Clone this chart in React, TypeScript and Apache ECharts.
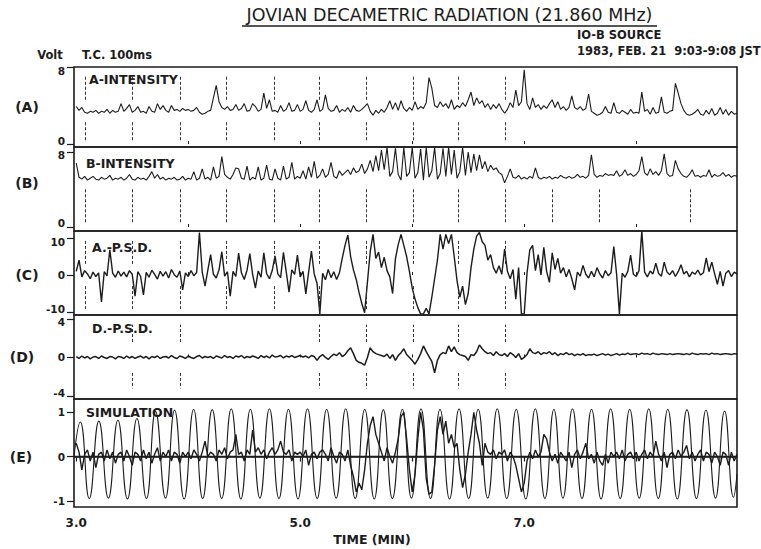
import React, { useEffect, useRef } from "react";
import * as echarts from "echarts";

// one reading every 0.025 min, starting at 3.0 min
const T_START = 3.0;
const T_STEP = 0.025;

const A_INTENSITY = [
  3.9, 3.5, 3.8, 3.3, 3.2, 3.4, 3.3, 3.5,
  3.2, 3.4, 3.3, 3.6, 3.2, 3.5, 3.3, 3.4,
  4.2, 3.4, 3.7, 4.1, 3.3, 3.5, 3.9, 3.3,
  3.4, 3.2, 3.9, 3.4, 3.3, 4.2, 3.6, 4.0,
  3.5, 3.3, 4.0, 3.5, 3.6, 3.4, 3.7, 3.5,
  3.6, 3.4, 3.5, 3.8, 3.3, 3.1, 3.2, 3.4,
  3.5, 4.8, 6.1, 4.4, 3.8, 3.6, 3.9, 3.5,
  3.6, 4.1, 3.5, 3.7, 4.2, 3.4, 3.5, 4.2,
  3.9, 3.4, 3.6, 5.3, 3.7, 4.6, 3.4, 3.5,
  3.3, 4.0, 3.4, 3.6, 4.3, 3.4, 3.5, 4.1,
  3.4, 3.6, 4.5, 3.5, 3.3, 3.6, 4.6, 3.4,
  3.6, 5.1, 3.7, 3.4, 3.5, 4.0, 3.3, 3.6,
  3.4, 3.8, 3.3, 4.0, 3.5, 3.4, 3.6, 3.9,
  4.2, 3.4, 3.0, 3.5, 3.2, 3.6, 3.3, 3.8,
  4.5, 3.6, 4.3, 3.5, 4.5, 3.7, 3.4, 3.8,
  3.5, 4.4, 3.6, 3.9, 3.7, 4.3, 6.9, 5.8,
  4.0, 3.8, 4.4, 3.9, 4.2, 3.7, 4.6, 3.6,
  4.0, 3.8, 4.3, 3.9, 4.6, 5.4, 4.0, 4.8,
  4.2, 4.5, 3.8, 4.2, 3.6, 4.1, 3.7, 4.2,
  3.6, 3.2, 3.6, 4.3, 3.8, 5.6, 4.0, 4.4,
  7.7, 4.2, 3.6, 4.8, 3.8, 4.1, 3.6, 4.0,
  3.7, 4.2, 4.6, 3.8, 4.4, 3.6, 3.9, 3.5,
  3.8, 5.0, 3.8, 3.6, 3.9, 3.5, 3.7, 5.2,
  3.4, 3.2, 3.0, 3.1, 3.3, 3.9, 3.3, 3.2,
  4.3, 3.3, 3.2, 3.5, 3.3, 3.1, 3.6, 3.2,
  3.3, 3.2, 5.4, 3.4, 3.6, 3.1, 3.8, 3.2,
  3.3, 4.9, 3.3, 3.2, 3.4, 3.5, 6.3, 5.3,
  4.2, 3.5, 3.1, 3.0, 3.1, 3.3, 3.6, 3.1,
  3.0, 3.5, 3.1, 3.7, 3.0, 3.2, 3.8, 3.1,
  3.6, 3.0, 3.4, 3.1, 3.2,
];

const B_INTENSITY = [
  6.8, 5.3, 5.1, 5.4, 5.0, 5.2, 5.4, 5.1,
  5.0, 5.3, 5.1, 5.2, 5.5, 5.0, 5.2, 5.1,
  5.3, 5.0, 5.2, 5.6, 5.1, 5.0, 5.3, 5.1,
  5.2, 5.0, 5.4, 5.9, 5.2, 5.6, 5.1, 5.3,
  5.0, 5.2, 5.1, 5.3, 5.0, 5.1, 5.4, 5.0,
  5.2, 5.1, 5.9, 5.0, 5.2, 6.2, 5.1, 5.3,
  5.0, 6.4, 5.2, 5.4, 7.5, 5.6, 5.3, 5.1,
  5.6, 6.3, 6.2, 5.2, 5.1, 6.5, 5.0, 5.3,
  5.1, 6.4, 5.0, 5.2, 6.6, 5.1, 5.0, 6.2,
  5.2, 5.0, 6.5, 5.1, 5.3, 6.9, 5.1, 5.4,
  5.2, 6.0, 5.1, 6.4, 5.3, 7.0, 5.2, 5.5,
  6.2, 5.3, 5.6, 6.9, 5.4, 5.2, 6.0, 5.5,
  5.8, 6.1, 5.6, 6.3, 5.8, 6.0, 6.7, 5.7,
  6.2, 7.1, 5.9, 7.6, 6.0, 8.2, 6.1, 8.5,
  5.4, 5.9, 8.4, 5.6, 5.0, 8.5, 5.4, 5.8,
  8.5, 5.2, 5.8, 8.3, 5.0, 8.5, 5.3, 6.0,
  8.5, 5.1, 5.7, 8.4, 5.4, 8.5, 5.6, 8.2,
  5.2, 5.9, 8.5, 5.5, 8.0, 5.8, 7.8, 6.0,
  7.7, 6.2, 7.0, 5.9, 6.6, 6.1, 6.3, 5.8,
  5.6, 4.7, 5.4, 6.2, 5.3, 5.2, 5.5, 5.1,
  5.3, 5.1, 5.4, 5.2, 6.3, 5.3, 5.1, 5.3,
  5.2, 5.4, 5.1, 5.3, 5.2, 5.5, 5.3, 5.2,
  5.4, 5.2, 5.3, 5.6, 5.3, 5.4, 5.2, 5.5,
  7.7, 5.6, 5.3, 5.5, 5.4, 5.7, 5.5, 5.6,
  5.5, 6.0, 5.4, 5.6, 6.1, 5.5, 5.7, 5.4,
  5.6, 6.0, 7.5, 5.8, 5.5, 6.2, 5.6, 5.9,
  5.5, 6.0, 7.8, 5.7, 5.4, 5.5, 7.1, 6.2,
  5.7, 5.4, 5.3, 5.6, 6.1, 5.4, 5.5, 5.3,
  5.5, 5.4, 6.1, 5.3, 5.6, 5.4, 5.5, 5.8,
  5.4, 5.6, 5.3, 5.5, 5.4,
];

const A_PSD = [
  1.0, 4.0, -0.5, 1.2, 0.3, -1.0, 0.8, -0.4,
  0.6, -7.3, 0.9, -0.2, 6.8, 0.5, -0.6, 1.1,
  -0.3, 0.8, -0.5, 1.2, 0.2, -5.7, 0.9, -0.4,
  -5.4, 0.7, -0.6, 1.3, 0.2, -1.1, 1.0, -0.3,
  0.9, -0.8, 1.5, 0.1, -0.6, 1.1, -4.0, 0.6,
  -0.4, 1.2, -0.2, 0.7, 11.5, 0.8, -3.0, 1.3,
  5.5, 0.2, -0.8, 1.4, 6.3, -0.3, 0.9, -5.7,
  1.0, -0.4, 5.9, 0.6, -1.2, 1.3, 5.8, 0.2,
  -3.5, 1.1, -0.6, 6.0, 0.4, -1.0, 1.2, 5.2,
  0.3, -0.7, 6.1, 0.9, -4.6, 1.4, 0.2, 5.4,
  -0.5, 1.0, -5.1, 0.8, 6.5, 0.3, -2.2, -10.5,
  0.5, -1.3, 1.5, -0.7, 0.9, -1.2, 0.6, 4.5,
  8.0, 10.8, 5.0, 1.4, -1.2, -4.7, -7.7, -10.2,
  -2.0, 6.3, 11.0, 4.5, 6.2, 2.0, 4.8, 1.2,
  -0.5, -5.0, 4.4, 8.2, 11.0, 8.0, 5.0, 1.0,
  -3.5, -6.5, -8.8, -10.5, -10.5, -9.0, -10.5, -6.0,
  -1.0, 4.0, 11.0, 7.0, 11.0, 8.5, 11.0, 5.0,
  -1.5, -6.0, -3.0, -8.0, -5.0, 2.0, 7.0, 10.5,
  11.5, 9.0, 8.0, 4.0, 5.5, 2.0, 0.5, 2.5,
  0.2, 7.0, 1.0, -1.0, 1.5, -6.5, 2.0, -10.5,
  -10.5, 0.5, 6.8, 8.0, 1.2, 5.5, 0.0, 7.5,
  1.0, -2.0, 6.0, 1.5, 4.5, 0.5, 2.0, -0.5,
  1.5, -1.0, -4.0, 0.8, -0.3, 2.6, 0.2, -0.8,
  1.0, -0.5, 2.0, 0.3, -0.8, 1.2, -0.2, 0.6,
  7.7, 0.2, -10.5, 0.5, -0.6, 1.0, 5.4, 0.2,
  -0.4, 1.2, 11.9, 0.8, -0.5, 1.1, 0.3, 3.2,
  0.4, -0.3, 3.5, 0.8, 0.1, 1.2, -0.4, 0.9,
  2.8, 0.3, 1.0, -0.5, 0.8, 0.2, 1.3, 0.0,
  0.6, 4.6, 0.9, 3.5, 0.4, -2.5, 1.0, -3.0,
  0.5, 1.2, -0.4, 0.8, 0.3,
];

const D_PSD = [
  0.1, -0.1, 0.15, -0.05, 0.1, -0.15, 0.05, 0.1,
  -0.1, 0.15, 0.0, -0.1, 0.1, 0.05, -0.15, 0.1,
  0.05, -0.1, 0.15, -0.05, 0.1, -0.1, 0.05, 0.15,
  -0.05, 0.1, -0.15, 0.1, 0.0, 0.15, -0.1, 0.05,
  0.1, -0.05, 0.2, 0.0, -0.1, 0.15, 0.05, -0.1,
  0.15, 0.0, -0.1, 0.1, 0.2, -0.05, 0.1, 0.0,
  0.1, -0.1, 0.15, 0.05, -0.05, 0.2, 0.0, 0.1,
  -0.1, 0.15, 0.05, 0.2, -0.05, 0.1, 0.0, 0.15,
  0.05, -0.1, 0.2, 0.0, 0.15, -0.05, 0.25, 0.05,
  0.1, 0.2, -0.05, 0.15, 0.05, 0.2, 0.0, 0.1,
  0.2, 0.05, 0.15, -0.05, 0.2, 0.1, -0.3, 0.1,
  0.3, 0.0, -0.2, 0.1, 0.35, 0.2, 0.5, 0.1,
  0.3, 0.7, 1.0, 0.4, -0.3, -0.5, -0.6, -0.8,
  0.0, 1.0, 0.6, 0.4, 0.3, 0.2, 0.1, 0.35,
  -0.1, 0.3, -0.3, 0.2, 0.5, 0.9, 0.3, 0.0,
  -0.3, -0.7, -0.2, 0.4, 1.2, 0.6, 0.1, -0.4,
  -1.6, -0.3, 0.3, 0.5, 0.4, 1.2, 0.6, 1.1,
  0.5, 0.3, 0.2, 0.1, -0.3, 0.3, 0.2, 0.6,
  1.3, 0.9, 0.6, 0.4, 0.5, 0.2, 0.6, 0.3,
  0.2, 0.4, 0.1, 0.5, 0.3, 0.0, 0.4, -0.2,
  0.0, 0.3, 0.9, 0.5, 0.4, 0.6, 0.3, 0.5,
  0.4, 0.6, 0.3, 0.5, 0.2, 0.4, 0.3, 0.5,
  0.3, 0.4, 0.2, 0.35, 0.25, 0.4, 0.2, 0.3,
  0.25, 0.35, 0.2, 0.3, 0.4, 0.25, 0.35, 0.2,
  0.3, 0.4, 0.25, 0.35, 0.3, 0.45, 0.3, 0.35,
  0.4, 0.3, 0.45, 0.35, 0.4, 0.3, 0.45, 0.35,
  0.3, 0.4, 0.35, 0.3, 0.4, 0.3, 0.35, 0.4,
  0.35, 0.3, 0.4, 0.3, 0.45, 0.35, 0.3, 0.4,
  0.35, 0.4, 0.3, 0.45, 0.35, 0.4, 0.3, 0.35,
  0.4, 0.35, 0.3, 0.4, 0.35,
];

const E_MEASURED = [
  0.3, 0.1, -0.3, 0.05, 0.15, -0.1, 0.1, -0.25,
  0.05, 0.1, -0.1, 0.15, -0.05, 0.1, -0.15, 0.05,
  0.1, -0.1, 0.15, 0.0, -0.2, 0.1, 0.05, -0.1,
  0.15, -0.05, 0.1, -0.15, 0.05, 0.2, -0.1, 0.1,
  0.0, 0.15, -0.1, 0.1, 0.05, -0.15, 0.1, 0.0,
  0.1, -0.05, 0.15, 0.05, -0.1, 0.1, 0.35, 0.0,
  0.1, 0.05, -0.1, 0.15, 0.05, 0.2, -0.05, 0.1,
  0.15, 0.5, 0.05, 0.1, -0.1, 0.15, 0.05, 0.6,
  0.1, 0.2, 0.05, 0.15, -0.05, 0.1, 0.2, 0.05,
  0.15, 0.35, 0.1, 0.05, 0.15, -0.1, 0.1, 0.05,
  0.1, 0.0, 0.15, -0.2, 0.05, 0.1, -0.05, 0.1,
  0.15, 0.05, -0.1, 0.2, 0.0, -0.15, 0.1, 0.05,
  -0.1, 0.15, -0.2, -0.45, -0.8, -0.6, -0.75, -0.3,
  0.3, 0.7, 0.9, 0.5, 0.3, 0.1, -0.1, 0.2,
  0.0, -0.15, 0.1, 0.4, 0.9, 1.0, 0.4, -0.3,
  -0.8, -0.4, 0.4, 1.0, 0.6, -0.5, -0.85, -0.8,
  -0.2, 0.6, 0.9, 0.5, 0.8, 0.3, 0.5, 0.2,
  0.3, -0.3, -0.7, -0.4, 0.1, 0.5, 1.0, 0.6,
  0.3, -0.2, 0.3, 0.1, 0.05, 0.15, -0.05, 0.1,
  0.05, 0.15, -0.1, 0.1, 0.0, -0.2, -0.5, -0.8,
  -0.6, -0.1, 0.1, -0.05, 0.15, 0.0, 0.1, 0.5,
  0.4, 0.1, -0.1, 0.05, -0.15, 0.1, 0.0, -0.1,
  0.1, -0.25, 0.05, 0.15, -0.05, 0.1, 0.3, -0.05,
  0.05, -0.15, 0.1, -0.1, -0.2, 0.05, -0.15, 0.1,
  0.0, 0.1, -0.05, 0.15, -0.1, 0.05, 0.1, -0.05,
  0.1, -0.1, 0.05, 0.15, -0.05, 0.1, 0.0, 0.35,
  0.05, -0.1, 0.1, -0.25, 0.05, 0.1, -0.05, 0.15,
  0.0, 0.1, 0.25, -0.05, 0.1, -0.1, 0.05, 0.15,
  -0.1, 0.1, 0.05, -0.15, 0.1, 0.0, -0.2, 0.1,
  0.05, -0.2, 0.1, -0.1, 0.05,
];

// simulation curve: peaks and troughs (time, value)
const SIM_TIME = [
  2.98, 3.036, 3.116, 3.202, 3.287, 3.372, 3.457, 3.542, 3.627, 3.708,
  3.797, 3.878, 3.963, 4.048, 4.129, 4.214, 4.299, 4.384, 4.47, 4.555,
  4.64, 4.725, 4.81, 4.895, 4.98, 5.065, 5.151, 5.236, 5.321, 5.406,
  5.491, 5.576, 5.661, 5.742, 5.823, 5.912, 5.993, 6.078, 6.163, 6.248,
  6.333, 6.418, 6.504, 6.589, 6.674, 6.759, 6.844, 6.929, 7.014, 7.099,
  7.185, 7.265, 7.346, 7.431, 7.516, 7.601, 7.686, 7.772, 7.857, 7.942,
  8.027, 8.112, 8.197, 8.282, 8.367, 8.453, 8.538, 8.623, 8.708, 8.789,
  8.869, 8.9,
];
const SIM_VALUE = [
  0.0, 0.78, -0.95, 0.8, -0.94, 0.82, -0.96, 0.86, -0.95, 1.02,
  -0.94, 1.05, -0.96, 1.07, -0.95, 1.06, -0.95, 1.08, -0.96, 1.07,
  -0.94, 1.08, -0.95, 1.07, -0.96, 1.08, -0.95, 1.07, -0.94, 1.08,
  -0.95, 1.07, -0.96, 1.06, -0.95, 1.07, -0.94, 1.08, -0.95, 1.07,
  -0.96, 1.08, -0.95, 1.07, -0.94, 1.08, -0.95, 1.07, -0.96, 1.08,
  -0.95, 1.07, -0.94, 1.08, -0.95, 1.07, -0.96, 1.08, -0.95, 1.07,
  -0.94, 1.08, -0.95, 1.07, -0.96, 1.06, -0.95, 1.05, -0.94, 1.03,
  -0.92, -0.4,
];

// timing marks (min)
const MARKS_A = [3.08, 3.5, 3.93, 4.34, 4.77, 5.17, 5.59, 6.01, 6.41, 6.83];
const MARKS_B = [3.08, 3.5, 3.93, 4.34, 4.77, 5.17, 5.59, 6.01, 6.41, 6.83, 7.25, 7.67, 8.48];
const MARKS_C = [3.08, 3.5, 3.93, 4.34, 4.77, 5.17, 5.59, 6.01, 6.41, 6.83];
const MARKS_D = [3.5, 3.93, 5.17, 5.59, 6.01, 6.41, 6.83];

const X_TICKS = [3, 4, 5, 6, 7, 8];
const X_LABELS = [3, 5, 7];
const Y_TICKS_A = [0, 8];
const Y_TICKS_B = [0, 8];
const Y_TICKS_C = [-10, 0, 10];
const Y_TICKS_D = [-4, 0, 4];
const Y_TICKS_E = [-1, 0, 1];

const FONT = '"DejaVu Sans", "Liberation Sans", Arial, sans-serif';
const INK = "#1c1c1c";

const PANELS = [
  { tag: "(A)", name: "A-INTENSITY", values: A_INTENSITY, range: [-0.3, 8], yTicks: Y_TICKS_A, marks: MARKS_A, spans: [[4.6, 7.0], [0.4, 2.3]] },
  { tag: "(B)", name: "B-INTENSITY", values: B_INTENSITY, range: [-0.43, 8.53], yTicks: Y_TICKS_B, marks: MARKS_B, spans: [[0.5, 4.1]] },
  { tag: "(C)", name: "A.-P.S.D.", values: A_PSD, range: [-10.8, 11.9], yTicks: Y_TICKS_C, marks: MARKS_C, spans: [[3, 9.5], [-3, -9.5]] },
  { tag: "(D)", name: "D.-P.S.D.", values: D_PSD, range: [-4.3, 4.4], yTicks: Y_TICKS_D, marks: MARKS_D, spans: [[1.6, 3.4], [-1.6, -3.2]] },
  { tag: "(E)", name: "SIMULATION", values: E_MEASURED, range: [-1.14, 1.3], yTicks: Y_TICKS_E, marks: [], spans: [] },
];

const LAYOUT = [
  { top: 67, height: 80, tagX: 27, tagY: 107, nameY: 79, lw: 1.1 },
  { top: 147, height: 84, tagX: 27, tagY: 183, nameY: 163, lw: 1.1 },
  { top: 231, height: 84, tagX: 27, tagY: 275, nameY: 247, lw: 1.4 },
  { top: 315, height: 84, tagX: 22, tagY: 357, nameY: 328, lw: 1.5 },
  { top: 399, height: 108, tagX: 21, tagY: 457, nameY: 412, lw: 1.4 },
];
const NAME_X = [89, 86, 92, 92, 86];

const toPoints = (vals: number[]) =>
  vals.map((v, i) => [Number((T_START + i * T_STEP).toFixed(3)), v]);

const labelFont = { fontFamily: FONT, fontWeight: "bold" as const, fontSize: 10.5, color: INK };

function buildOption() {
  const grid = LAYOUT.map((l) => ({
    left: 74,
    right: 24,
    top: l.top,
    height: l.height,
    show: true,
    borderColor: INK,
    borderWidth: 1.6,
  }));

  const xAxis = PANELS.map((_, i) => {
    const last = i === PANELS.length - 1;
    return {
      type: "value",
      gridIndex: i,
      min: 2.98,
      max: 8.9,
      axisLine: { show: last, lineStyle: { color: INK, width: 1.6 } },
      axisTick: last
        ? { show: true, customValues: X_TICKS, length: 5, lineStyle: { color: INK, width: 1.2 } }
        : { show: true, inside: true, customValues: [4, 5, 6, 7, 8], length: 3, lineStyle: { color: INK } },
      axisLabel: last
        ? {
            show: true,
            customValues: X_LABELS,
            formatter: (v: number) => v.toFixed(1),
            color: INK,
            fontFamily: FONT,
            fontWeight: "bold",
            fontSize: 12,
            margin: 10,
          }
        : { show: false },
      splitLine: { show: false },
    };
  });

  const yAxis = PANELS.map((p, i) => {
    const shift = i < 4;
    const lo = p.yTicks[0];
    const hi = p.yTicks[p.yTicks.length - 1];
    return {
      type: "value",
      gridIndex: i,
      min: p.range[0],
      max: p.range[1],
      axisLine: { show: false },
      axisTick: { show: true, customValues: p.yTicks, length: 7, lineStyle: { color: INK, width: 1.2 } },
      axisLabel: {
        show: true,
        customValues: p.yTicks,
        formatter: (v: number) => {
          if (shift && v === hi) return `{u|${v}}`;
          if (shift && v === lo) return `{d|${v}}`;
          return `{m|${v}}`;
        },
        ...labelFont,
        margin: 9,
        rich: {
          u: { ...labelFont, padding: [7, 0, 0, 0] },
          d: { ...labelFont, padding: [0, 0, 7, 0] },
          m: { ...labelFont },
        },
      },
      splitLine: { show: false },
    };
  });

  const series: any[] = PANELS.map((p, i) => ({
    type: "line",
    xAxisIndex: i,
    yAxisIndex: i,
    data: toPoints(p.values),
    showSymbol: false,
    symbol: "none",
    lineStyle: { color: INK, width: LAYOUT[i].lw },
    markLine:
      i === 4
        ? {
            symbol: ["none", "none"],
            silent: true,
            label: { show: false },
            lineStyle: { color: INK, width: 1.3, type: "solid" },
            data: [{ yAxis: 0 }],
          }
        : {
            symbol: ["none", "none"],
            silent: true,
            label: { show: false },
            lineStyle: { color: "#333", width: 1, type: [3, 2] },
            data: p.marks.flatMap((t) =>
              p.spans.map((s) => [{ coord: [t, s[0]] }, { coord: [t, s[1]] }])
            ),
          },
  }));

  series.push({
    type: "line",
    xAxisIndex: 4,
    yAxisIndex: 4,
    data: SIM_TIME.map((t, k) => [t, SIM_VALUE[k]]),
    smooth: true,
    showSymbol: false,
    symbol: "none",
    lineStyle: { color: INK, width: 1.1 },
  });

  const txt = (text: string, x: number, y: number, size: number, align = "left", weight = "bold") => ({
    type: "text",
    x,
    y,
    silent: true,
    style: {
      text,
      fontFamily: FONT,
      fontSize: size,
      fontWeight: weight,
      fill: INK,
      align,
      verticalAlign: "middle",
    },
  });

  const graphic: any[] = [
    txt("JOVIAN DECAMETRIC RADIATION (21.860 MHz)", 449.5, 15, 17.5, "center", "normal"),
    {
      type: "line",
      silent: true,
      shape: { x1: 242, y1: 26, x2: 657, y2: 26 },
      style: { stroke: INK, lineWidth: 1.3 },
    },
    txt("IO-B SOURCE", 577, 35, 11.5),
    txt("1983, FEB. 21  9:03-9:08 JST", 577, 51, 11.5),
    txt("Volt", 50, 55, 11.5, "center"),
    txt("T.C. 100ms", 82, 55, 11.5),
    txt("TIME (MIN)", 372, 539, 12.5, "center"),
  ];
  PANELS.forEach((p, i) => {
    graphic.push(txt(p.tag, LAYOUT[i].tagX, LAYOUT[i].tagY, 14, "center"));
    graphic.push(txt(p.name, NAME_X[i], LAYOUT[i].nameY, 12.5));
  });

  return {
    animation: false,
    backgroundColor: "#ffffff",
    grid,
    xAxis,
    yAxis,
    series,
    graphic,
  };
}

export default function App() {
  const ref = useRef<HTMLDivElement>(null);
  useEffect(() => {
    if (!ref.current) return;
    const chart = echarts.init(ref.current, undefined, { renderer: "svg" });
    chart.setOption(buildOption() as any);
    return () => chart.dispose();
  }, []);
  return <div ref={ref} style={{ width: 761, height: 549, position: "absolute", left: 0, top: 0 }} />;
}
